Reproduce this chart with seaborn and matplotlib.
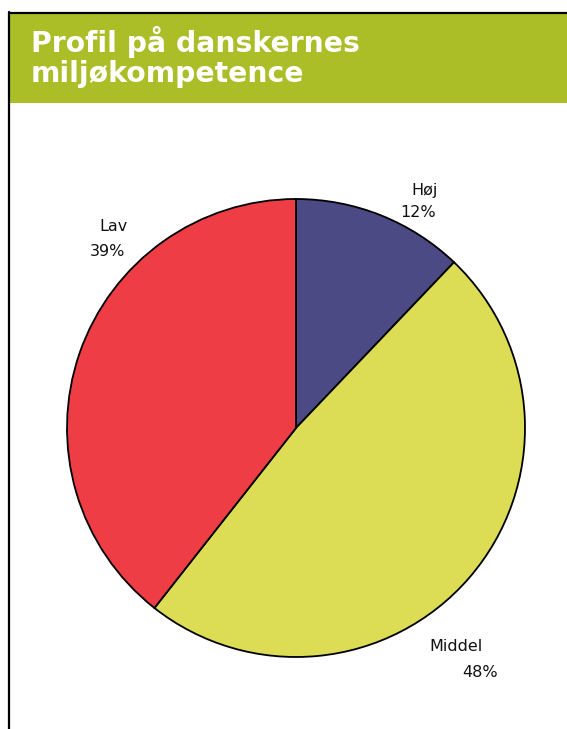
import matplotlib
matplotlib.use("Agg")
import matplotlib.pyplot as plt
import seaborn as sns
from matplotlib.patches import Rectangle
from matplotlib.lines import Line2D

# Data
categories = ["Høj", "Middel", "Lav"]
shares = [12, 48, 39]
title_lines = ["Profil på danskernes", "miljøkompetence"]

sns.set_theme(style="white")
plt.rcParams["font.family"] = ["DejaVu Sans"]
palette = sns.color_palette(["#4b4a84", "#dcdc55", "#ee3d45"])

W, H = 567, 729
fig = plt.figure(figsize=(W / 100, H / 100), dpi=100)
fig.patch.set_facecolor("white")

# Frame: black rule on the left and top, green title band
fig.add_artist(Rectangle((9 / W, 1 - 103 / H), 1 - 9 / W, 90 / H,
                         transform=fig.transFigure, facecolor="#abbe27",
                         edgecolor="none"))
fig.add_artist(Line2D([8.5 / W, 8.5 / W], [0, 1 - 12 / H],
                      transform=fig.transFigure, color="black", lw=1.6))
fig.add_artist(Line2D([8.5 / W, 1], [1 - 12.5 / H, 1 - 12.5 / H],
                      transform=fig.transFigure, color="black", lw=1.6))
for baseline, line in zip((52, 82), title_lines):
    fig.text(31 / W, 1 - baseline / H, line, color="white",
             fontsize=20.3, fontweight="bold", va="baseline", ha="left")

# Pie chart
cx, cy, r = 296, 428, 229
ax = fig.add_axes([(cx - r) / W, (H - cy - r) / H, 2 * r / W, 2 * r / H])
ax.pie(shares, colors=palette, startangle=90, counterclock=False,
       wedgeprops=dict(edgecolor="black", linewidth=1.3))
ax.set_xlim(-1, 1)
ax.set_ylim(-1, 1)
ax.set_aspect("equal")
ax.axis("off")

# Category labels with percentages
label_pos = {
    "Høj": [(0.563, 1.039), (0.533, 0.939)],
    "Lav": [(-0.795, 0.878), (-0.825, 0.769)],
    "Middel": [(0.699, -0.956), (0.802, -1.066)],
}
for cat, val in zip(categories, shares):
    (nx, ny), (vx, vy) = label_pos[cat]
    ax.text(nx, ny, cat, ha="center", va="center", fontsize=11.5,
            color="#111111", clip_on=False)
    ax.text(vx, vy, f"{val}%", ha="center", va="center", fontsize=11.5,
            color="#111111", clip_on=False)

fig.savefig("out.png", dpi=100)
